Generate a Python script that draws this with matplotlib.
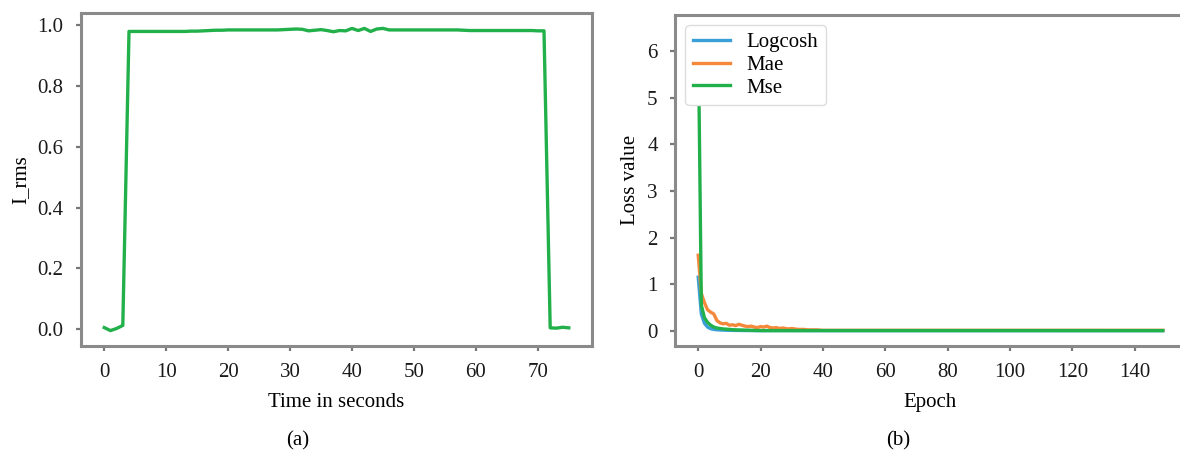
import matplotlib
matplotlib.use("Agg")
import matplotlib.pyplot as plt

plt.rcParams['font.family'] = ['Liberation Serif', 'DejaVu Serif']
plt.rcParams['font.size'] = 15

# (a) RMS current over time
time_s = list(range(0, 76))
i_rms = [0.005, -0.005, 0.002, 0.012, 0.980, 0.980, 0.980, 0.980, 0.980, 0.980,
         0.980, 0.980, 0.980, 0.980, 0.981, 0.981, 0.982, 0.983, 0.984, 0.984,
         0.985, 0.985, 0.985, 0.985, 0.985, 0.985, 0.985, 0.985, 0.985, 0.986,
         0.987, 0.988, 0.987, 0.982, 0.984, 0.986, 0.983, 0.979, 0.983, 0.982,
         0.990, 0.983, 0.990, 0.980, 0.988, 0.990, 0.985, 0.985, 0.985, 0.985,
         0.985, 0.985, 0.985, 0.985, 0.985, 0.985, 0.985, 0.985, 0.984, 0.983,
         0.983, 0.983, 0.983, 0.983, 0.983, 0.983, 0.983, 0.983, 0.983, 0.983,
         0.982, 0.982, 0.004, 0.003, 0.006, 0.004]

# (b) training loss per epoch
epochs = list(range(0, 150))
logcosh = [1.15, 0.36, 0.16, 0.08, 0.045, 0.03, 0.022, 0.018, 0.015, 0.012,
           0.010, 0.009, 0.008, 0.007, 0.006, 0.006, 0.005, 0.005, 0.004, 0.004] + [0.003] * 130
mae = [1.62, 0.80, 0.60, 0.45, 0.40, 0.36, 0.22, 0.17, 0.15, 0.16,
       0.12, 0.13, 0.11, 0.14, 0.12, 0.10, 0.09, 0.10, 0.08, 0.07,
       0.09, 0.08, 0.10, 0.07, 0.06, 0.07, 0.05, 0.06, 0.05, 0.04,
       0.05, 0.04, 0.03, 0.03, 0.03, 0.02, 0.02, 0.02, 0.02, 0.015] + [0.01] * 110
mse = [6.45, 0.55, 0.28, 0.18, 0.12, 0.08, 0.06, 0.05, 0.04, 0.035,
       0.03, 0.025, 0.02, 0.018, 0.015, 0.012, 0.01, 0.009, 0.008, 0.007] + [0.005] * 130

green = '#22b04b'
spine_c = '#8a8a8a'

fig = plt.figure(figsize=(11.8, 4.54), dpi=100)
ax1 = fig.add_axes([81 / 1180, (454 - 345.7) / 454, 511 / 1180, 332.4 / 454])
ax2 = fig.add_axes([675 / 1180, (454 - 345.7) / 454, 511 / 1180, 330.7 / 454])

ax1.plot(time_s, i_rms, color=green, lw=2.4)
ax1.set_xticks(range(0, 80, 10))
ax1.set_yticks([0.0, 0.2, 0.4, 0.6, 0.8, 1.0])
ax1.set_yticklabels(['0.0', '0.2', '0.4', '0.6', '0.8', '1.0'])
ax1.set_xlabel('Time in seconds', labelpad=8)
ax1.set_ylabel('I_rms', labelpad=5)

ax2.plot(epochs, logcosh, color='#3a9fd6', lw=2.4, label='Logcosh')
ax2.plot(epochs, mae, color='#f5883a', lw=2.4, label='Mae')
ax2.plot(epochs, mse, color=green, lw=2.4, label='Mse')
ax2.set_xticks(range(0, 160, 20))
ax2.set_yticks(range(0, 7))
ax2.set_xlabel('Epoch', labelpad=8)
ax2.set_ylabel('Loss value', labelpad=5)
leg = ax2.legend(loc='upper left', handlelength=1.8, handletextpad=0.8,
                 labelspacing=0.15, borderpad=0.35, fancybox=True, framealpha=1)
leg.get_frame().set_edgecolor('#dddddd')

for ax in (ax1, ax2):
    for s in ax.spines.values():
        s.set_color(spine_c)
        s.set_linewidth(2.2)
    ax.tick_params(direction='out', length=3.5, width=1.6, color='#777777',
                   pad=9, labelcolor='#1a1a1a')

fig.text(298 / 1180, 1 - 441 / 454, '(a)', ha='center', va='center', fontsize=15)
fig.text(898 / 1180, 1 - 441 / 454, '(b)', ha='center', va='center', fontsize=15)

fig.savefig('out.png', dpi=100)
